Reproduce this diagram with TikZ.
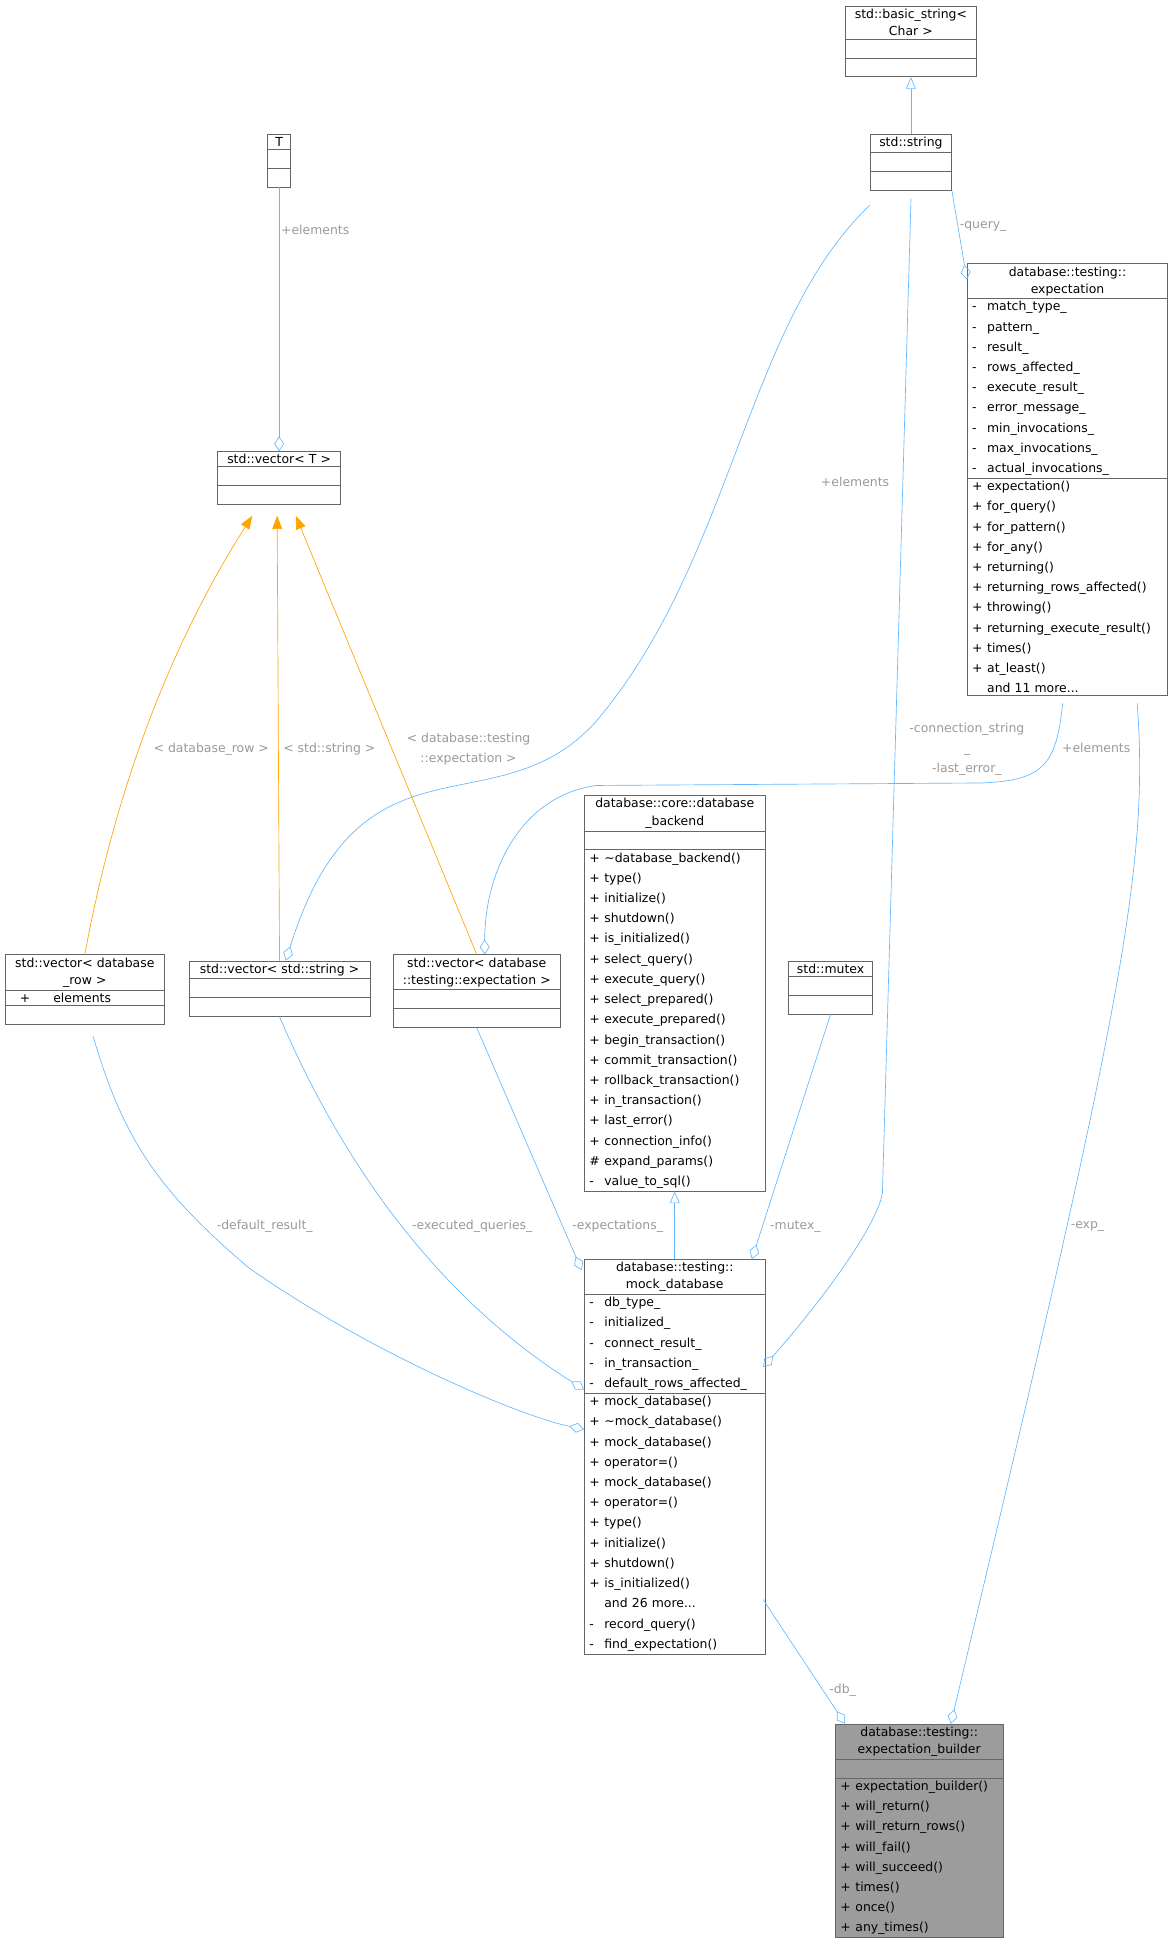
\documentclass[tikz,border=0pt]{standalone}
\usepackage{fontspec}
\setmainfont{DejaVu Sans}
\usetikzlibrary{arrows.meta, shapes.multipart}
\definecolor{edgeblue}{HTML}{63B8FF}
\definecolor{tmplorange}{HTML}{FFA500}
\definecolor{lblgray}{HTML}{9A9A9A}
\definecolor{boxgray}{HTML}{666666}
\newcommand{\umem}[2]{\makebox[9pt][l]{#1}#2}
\newcommand{\emptypart}{\rule{0pt}{8pt}}
\newcommand{\ctitle}[1]{{\centering\linespread{0.85}\selectfont #1\par}}
\begin{document}
\begin{tikzpicture}
        [x=0.75pt, y=-0.75pt,
        font=\fontsize{7.5}{12.2}\selectfont,
        cls/.style={rectangle split, rectangle split parts=3, draw=boxgray,
           anchor=north west, inner xsep=3pt, inner ysep=1.5pt,
           align=left, fill=white},
        agg/.style={draw=edgeblue, -{Diamond[open,length=9pt,width=6pt]}},
        inh/.style={draw=edgeblue, -{Triangle[open,length=7pt,width=6pt]}},
        tmpl/.style={draw=tmplorange, -{Triangle[length=8pt,width=6pt]}},
        lbl/.style={text=lblgray, align=center, inner sep=1pt}]
        \useasboundingbox (0,0) rectangle (940,1565);
        \node (bstr) at (680,5) [cls, text width=73pt]
           {\ctitle{std::basic\_string<\\Char >}\nodepart{two}\emptypart\nodepart{three}\emptypart};
        \node (str) at (700,108) [cls, text width=43pt]
           {\ctitle{std::string}\nodepart{two}\emptypart\nodepart{three}\emptypart};
        \node (T) at (215,108) [cls, text width=8pt]
           {\ctitle{T}\nodepart{two}\emptypart\nodepart{three}\emptypart};
        \node (vecT) at (175,363) [cls, text width=68pt]
           {\ctitle{std::vector< T >}\nodepart{two}\emptypart\nodepart{three}\emptypart};
        \node (exp) at (778,212) [cls, text width=115pt]
           {\ctitle{database::testing::\\expectation}
           \nodepart{two}\umem{-}{match\_type\_}\\\umem{-}{pattern\_}\\\umem{-}{result\_}\\
           \umem{-}{rows\_affected\_}\\\umem{-}{execute\_result\_}\\\umem{-}{error\_message\_}\\
           \umem{-}{min\_invocations\_}\\\umem{-}{max\_invocations\_}\\\umem{-}{actual\_invocations\_}
           \nodepart{three}\umem{+}{expectation()}\\\umem{+}{for\_query()}\\\umem{+}{for\_pattern()}\\
           \umem{+}{for\_any()}\\\umem{+}{returning()}\\\umem{+}{returning\_rows\_affected()}\\
           \umem{+}{throwing()}\\\umem{+}{returning\_execute\_result()}\\\umem{+}{times()}\\
           \umem{+}{at\_least()}\\\umem{}{and 11 more...}};
        \node (vrow) at (4,768) [cls, text width=90pt]
           {\ctitle{std::vector< database\\\_row >}\nodepart{two}\makebox[18pt][c]{+}\hspace{8pt}elements\nodepart{three}\emptypart};
        \node (vstr) at (152,773) [cls, text width=103pt]
           {\ctitle{std::vector< std::string >}\nodepart{two}\emptypart\nodepart{three}\emptypart};
        \node (vexp) at (316,768) [cls, text width=95pt]
           {\ctitle{std::vector< database\\::testing::expectation >}\nodepart{two}\emptypart\nodepart{three}\emptypart};
        \node (back) at (470,640) [cls, text width=103pt]
           {\ctitle{database::core::database\\\_backend}
           \nodepart{two}\emptypart
           \nodepart{three}\umem{+}{\textasciitilde database\_backend()}\\\umem{+}{type()}\\\umem{+}{initialize()}\\
           \umem{+}{shutdown()}\\\umem{+}{is\_initialized()}\\\umem{+}{select\_query()}\\
           \umem{+}{execute\_query()}\\\umem{+}{select\_prepared()}\\\umem{+}{execute\_prepared()}\\
           \umem{+}{begin\_transaction()}\\\umem{+}{commit\_transaction()}\\\umem{+}{rollback\_transaction()}\\
           \umem{+}{in\_transaction()}\\\umem{+}{last\_error()}\\\umem{+}{connection\_info()}\\
           \umem{\#}{expand\_params()}\\\umem{-}{value\_to\_sql()}};
        \node (mtx) at (634,773) [cls, text width=45pt]
           {\ctitle{std::mutex}\nodepart{two}\emptypart\nodepart{three}\emptypart};
        \node (mock) at (470,1013) [cls, text width=103pt]
           {\ctitle{database::testing::\\mock\_database}
           \nodepart{two}\umem{-}{db\_type\_}\\\umem{-}{initialized\_}\\\umem{-}{connect\_result\_}\\
           \umem{-}{in\_transaction\_}\\\umem{-}{default\_rows\_affected\_}
           \nodepart{three}\umem{+}{mock\_database()}\\\umem{+}{\textasciitilde mock\_database()}\\\umem{+}{mock\_database()}\\
           \umem{+}{operator=()}\\\umem{+}{mock\_database()}\\\umem{+}{operator=()}\\
           \umem{+}{type()}\\\umem{+}{initialize()}\\\umem{+}{shutdown()}\\\umem{+}{is\_initialized()}\\
           \umem{}{and 26 more...}\\\umem{-}{record\_query()}\\\umem{-}{find\_expectation()}};
        \node (bld) at (672,1387) [cls, text width=95pt, fill=boxgray!65]
           {\ctitle{database::testing::\\expectation\_builder}
           \nodepart{two}\emptypart
           \nodepart{three}\umem{+}{expectation\_builder()}\\\umem{+}{will\_return()}\\\umem{+}{will\_return\_rows()}\\
           \umem{+}{will\_fail()}\\\umem{+}{will\_succeed()}\\\umem{+}{times()}\\\umem{+}{once()}\\\umem{+}{any\_times()}};
        % inheritance
        \draw[inh] (str.north) -- (bstr.south);
        \draw[inh] (mock.north) -- (back.south);
        % template instances
        \draw[tmpl] (vrow.north) .. controls (90,650) and (130,530) .. (203,415);
        \node[lbl, fill=white] (lrowt) at (170,603) {< database\_row >};
        \draw[tmpl] (vstr.north) -- (223,415);
        \node[lbl, fill=white] (lstrt) at (265,603) {< std::string >};
        \draw[tmpl] (vexp.north) -- (238,415);
        \node[lbl, fill=white] (lexpt) at (377,603) {< database::testing\\::expectation >};
        % aggregations
        \draw[agg] (T.south) -- (vecT.north) node[pos=0.16, lbl, right] {+elements};
        \draw[agg] (str.south east) -- (778,225) node[pos=0.4, lbl, right] {-query\_};
        \draw[agg] (700,165) .. controls (600,260) and (590,450) .. (480,580)
           .. controls (400,670) and (290,580) .. (230,773);
        \node[lbl] (lstr) at (688,388) {+elements};
        \draw[agg] (855,566) .. controls (850,615) and (840,628) .. (790,630)
           -- (480,632) .. controls (420,640) and (390,700) .. (390,768);
        \node[lbl] (lexp) at (882,602) {+elements};
        \draw[agg] (915,566) .. controls (925,700) and (900,820) .. (765,1387);
        \node[lbl] (lbexp) at (875,987) {-exp\_};
        \draw[agg] (733,160) -- (710,960) .. controls (705,990) and (650,1060) .. (614,1100);
        \node[lbl] (lconn) at (778,603) {-connection\_string\\\_\\-last\_error\_};
        \draw[agg] (75,834) .. controls (100,920) and (130,960) .. (200,1020)
           .. controls (300,1090) and (420,1140) .. (470,1150);
        \node[lbl] (lrow) at (213,987) {-default\_result\_};
        \draw[agg] (vstr.south) .. controls (260,900) and (330,1030) .. (470,1118);
        \node[lbl, fill=white] (lvstr) at (380,987) {-executed\_queries\_};
        \draw[agg] (vexp.south) -- (468,1022);
        \node[lbl, fill=white] (lvexp) at (497,987) {-expectations\_};
        \draw[agg] (mtx.south) -- (605,1013);
        \node[lbl] (lmtx) at (640,987) {-mutex\_};
        \draw[agg] (614,1287) -- (680,1387);
        \node[lbl] (ldb) at (678,1360) {-db\_};
     \end{tikzpicture}
\end{document}
